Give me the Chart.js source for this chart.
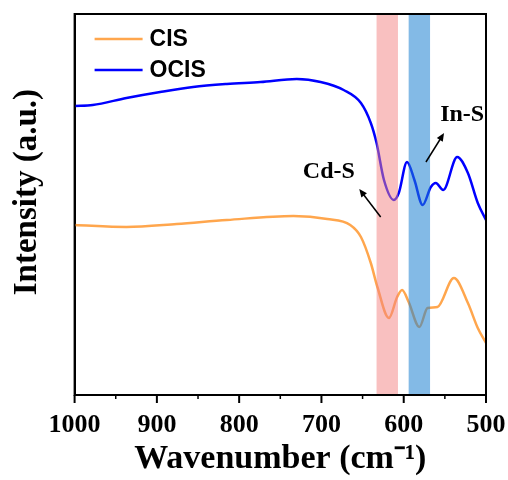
<!DOCTYPE html>
<html>
<head>
<meta charset="utf-8">
<script src="https://cdn.jsdelivr.net/npm/chart.js@4"></script>
<style>
  html, body { margin: 0; padding: 0; background: #fff; }
  #wrap { width: 508px; height: 480px; }
</style>
</head>
<body>
<div id="wrap"><canvas id="chartFTIR"></canvas></div>
<script>
// Spectra (x: wavenumber in cm-1, y: intensity in a.u.)
const ocisWavenumber = [1000, 978, 937, 896, 856, 815, 774, 730, 701, 673, 652, 640, 633, 624, 612, 606, 596, 587, 577, 567, 561, 552, 535, 522, 510, 500];
const ocisIntensity = [289, 290, 297, 303, 308, 311, 313, 316, 313, 305, 292, 272, 252, 215, 195, 202, 233, 215, 190, 208, 212, 205, 238, 222, 192, 175];

const cisWavenumber = [1000, 937, 876, 815, 734, 693, 665, 652, 640, 632, 618, 608, 602, 594, 581, 571, 559, 539, 522, 510, 500];
const cisIntensity = [170, 168, 171, 175, 179, 176, 170, 158, 132, 108, 77, 98, 105, 93, 68, 87, 88, 117, 92, 67, 52];

const seriesNames = ["CIS", "OCIS"];
const seriesColors = ["#FFA64D", "#0000FF"];

// Highlighted bands (cm-1)
const bandRanges = [[633, 607], [594, 568]];
const bandColors = ["rgba(244, 130, 130, 0.5)", "rgba(30, 130, 210, 0.55)"];

// Minor ticks on the wavenumber axis
const minorTicks = [950, 850, 750, 650, 550];

// Peak labels: text, label position, arrow tail, arrow head (data coords)
const peakLabels = [
    { text: "Cd-S", at: [691, 223], from: [628, 178], to: [654, 206] },
    { text: "In-S", at: [529, 280], from: [573, 233], to: [551, 262] }
];

function toPoints(xs, ys) {
    return xs.map((x, i) => ({ x: x, y: ys[i] }));
}

const serif = "'Times New Roman', 'Liberation Serif', serif";
const sans = "Arial, 'Liberation Sans', sans-serif";

const decorPlugin = {
    id: "decor",
    afterDatasetsDraw(chart) {
        const ctx = chart.ctx;
        const xs = chart.scales.x;
        const ys = chart.scales.y;
        const area = chart.chartArea;
        ctx.save();

        // shaded bands, drawn over the lines
        bandRanges.forEach((r, i) => {
            const x1 = xs.getPixelForValue(r[0]);
            const x2 = xs.getPixelForValue(r[1]);
            ctx.fillStyle = bandColors[i];
            ctx.fillRect(x1, area.top, x2 - x1, area.bottom - area.top);
        });

        // frame
        ctx.strokeStyle = "#000";
        ctx.lineWidth = 2;
        ctx.strokeRect(area.left, area.top, area.right - area.left, area.bottom - area.top);

        // major and minor tick marks, pointing outward
        xs.ticks.forEach(t => {
            const px = xs.getPixelForValue(t.value);
            ctx.lineWidth = 2;
            ctx.beginPath();
            ctx.moveTo(px, area.bottom);
            ctx.lineTo(px, area.bottom + 8);
            ctx.stroke();
        });
        minorTicks.forEach(v => {
            const px = xs.getPixelForValue(v);
            ctx.lineWidth = 1.5;
            ctx.beginPath();
            ctx.moveTo(px, area.bottom);
            ctx.lineTo(px, area.bottom + 4);
            ctx.stroke();
        });

        // peak labels with arrows
        ctx.fillStyle = "#000";
        ctx.font = "bold 24px " + serif;
        ctx.textAlign = "center";
        ctx.textBaseline = "middle";
        peakLabels.forEach(p => {
            ctx.fillText(p.text, xs.getPixelForValue(p.at[0]), ys.getPixelForValue(p.at[1]));
            const x0 = xs.getPixelForValue(p.from[0]);
            const y0 = ys.getPixelForValue(p.from[1]);
            const x1 = xs.getPixelForValue(p.to[0]);
            const y1 = ys.getPixelForValue(p.to[1]);
            const ang = Math.atan2(y1 - y0, x1 - x0);
            ctx.lineWidth = 1.5;
            ctx.beginPath();
            ctx.moveTo(x0, y0);
            ctx.lineTo(x1 - 5 * Math.cos(ang), y1 - 5 * Math.sin(ang));
            ctx.stroke();
            ctx.beginPath();
            ctx.moveTo(x1, y1);
            ctx.lineTo(x1 - 8 * Math.cos(ang) + 3.5 * Math.sin(ang), y1 - 8 * Math.sin(ang) - 3.5 * Math.cos(ang));
            ctx.lineTo(x1 - 8 * Math.cos(ang) - 3.5 * Math.sin(ang), y1 - 8 * Math.sin(ang) + 3.5 * Math.cos(ang));
            ctx.closePath();
            ctx.fill();
        });

        // legend, top left inside the frame
        ctx.font = "bold 23px " + sans;
        ctx.textAlign = "left";
        chart.data.datasets.forEach((ds, i) => {
            const y = area.top + 25 + i * 31;
            ctx.strokeStyle = ds.borderColor;
            ctx.lineWidth = 2.5;
            ctx.beginPath();
            ctx.moveTo(area.left + 20, y);
            ctx.lineTo(area.left + 68, y);
            ctx.stroke();
            ctx.fillStyle = "#000";
            ctx.fillText(ds.label, area.left + 75, y + 1);
        });
        ctx.restore();
    }
};

new Chart(document.getElementById("chartFTIR").getContext("2d"), {
    type: "line",
    data: {
        datasets: [
            {
                label: seriesNames[0],
                data: toPoints(cisWavenumber, cisIntensity),
                borderColor: seriesColors[0],
                backgroundColor: seriesColors[0],
                borderWidth: 2.5,
                pointRadius: 0,
                cubicInterpolationMode: "monotone"
            },
            {
                label: seriesNames[1],
                data: toPoints(ocisWavenumber, ocisIntensity),
                borderColor: seriesColors[1],
                backgroundColor: seriesColors[1],
                borderWidth: 2.5,
                pointRadius: 0,
                cubicInterpolationMode: "monotone"
            }
        ]
    },
    options: {
        responsive: true,
        maintainAspectRatio: false,
        animation: false,
        layout: { padding: { left: 8, right: 22, top: 14, bottom: 0 } },
        plugins: {
            tooltip: { enabled: false },
            legend: { display: false }
        },
        scales: {
            x: {
                type: "linear",
                reverse: true,
                min: 500,
                max: 1000,
                border: { display: true, color: "#000", width: 2 },
                grid: { display: true, drawOnChartArea: false, tickLength: 13, tickColor: "rgba(0,0,0,0)" },
                ticks: {
                    stepSize: 100,
                    padding: 2,
                    maxRotation: 0,
                    color: "#000",
                    font: { family: serif, size: 26, weight: "bold" },
                    callback: v => String(v)
                },
                title: {
                    display: true,
                    text: "Wavenumber (cm\u207B\u00B9)",
                    color: "#000",
                    padding: { top: -4, bottom: 0 },
                    font: { family: serif, size: 34, weight: "bold" }
                }
            },
            y: {
                min: 0,
                max: 381,
                border: { display: true, color: "#000", width: 2 },
                grid: { display: false },
                ticks: { display: false },
                title: {
                    display: true,
                    text: "   Intensity (a.u.)",
                    color: "#000",
                    padding: { top: 0, bottom: 19 },
                    font: { family: serif, size: 33, weight: "bold" }
                }
            }
        }
    },
    plugins: [decorPlugin]
});
</script>
</body>
</html>
